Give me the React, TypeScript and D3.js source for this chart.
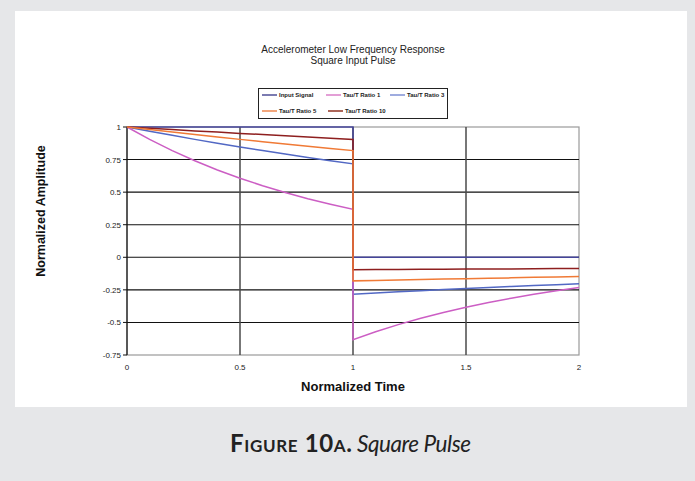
import React from "react";
import * as d3 from "d3";

const timeBefore = [0, 0.1, 0.2, 0.3, 0.4, 0.5, 0.6, 0.7, 0.8, 0.9, 1];
const timeAfter = [1, 1.1, 1.2, 1.3, 1.4, 1.5, 1.6, 1.7, 1.8, 1.9, 2];

const inputBefore = [1, 1, 1, 1, 1, 1, 1, 1, 1, 1, 1];
const inputAfter = [0, 0, 0, 0, 0, 0, 0, 0, 0, 0, 0];
const tau1Before = [1, 0.905, 0.819, 0.741, 0.67, 0.607, 0.549, 0.497, 0.449, 0.407, 0.368];
const tau1After = [-0.632, -0.572, -0.517, -0.468, -0.424, -0.383, -0.347, -0.314, -0.284, -0.257, -0.232];
const tau3Before = [1, 0.967, 0.936, 0.905, 0.875, 0.846, 0.819, 0.792, 0.766, 0.741, 0.717];
const tau3After = [-0.283, -0.274, -0.265, -0.256, -0.248, -0.24, -0.232, -0.224, -0.217, -0.21, -0.203];
const tau5Before = [1, 0.98, 0.961, 0.942, 0.923, 0.905, 0.887, 0.869, 0.852, 0.835, 0.819];
const tau5After = [-0.181, -0.178, -0.174, -0.171, -0.167, -0.164, -0.161, -0.158, -0.154, -0.151, -0.148];
const tau10Before = [1, 0.99, 0.98, 0.97, 0.961, 0.951, 0.942, 0.932, 0.923, 0.914, 0.905];
const tau10After = [-0.095, -0.094, -0.093, -0.092, -0.091, -0.09, -0.09, -0.089, -0.088, -0.087, -0.086];

const seriesNames = ["Input Signal", "Tau/T Ratio 1", "Tau/T Ratio 3", "Tau/T Ratio 5", "Tau/T Ratio 10"];
const seriesColors = ["#45459a", "#cc5ec4", "#5268c4", "#f07a36", "#8e1f1f"];
const legendColors = ["#5a5a9e", "#dd88cc", "#8898d8", "#f0905a", "#984030"];

const yTicks = [1, 0.75, 0.5, 0.25, 0, -0.25, -0.5, -0.75];
const yTickLabels = ["1", "0.75", "0.5", "0.25", "0", "-0.25", "-0.5", "-0.75"];
const xTicks = [0, 0.5, 1, 1.5, 2];
const xTickLabels = ["0", "0.5", "1", "1.5", "2"];

const chartTitle = ["Accelerometer Low Frequency Response", "Square Input Pulse"];

export default function App() {
  const W = 695, H = 481;
  const x = d3.scaleLinear().domain([0, 2]).range([127, 579]);
  const y = d3.scaleLinear().domain([-0.75, 1]).range([355, 127]);

  const series = [
    [inputBefore, inputAfter],
    [tau1Before, tau1After],
    [tau3Before, tau3After],
    [tau5Before, tau5After],
    [tau10Before, tau10After],
  ].map(([b, a]) => {
    const pts: [number, number][] = [];
    timeBefore.forEach((t, i) => pts.push([t, b[i]]));
    timeAfter.forEach((t, i) => pts.push([t, a[i]]));
    return pts;
  });

  const line = d3
    .line<[number, number]>()
    .x((d) => x(d[0]))
    .y((d) => y(d[1]));

  const font = "'Liberation Sans', Arial, sans-serif";
  const drawOrder = [0, 2, 1, 4, 3];

  const legendItems = [
    { i: 0, lx: 262, ly: 95 },
    { i: 1, lx: 326, ly: 95 },
    { i: 2, lx: 390, ly: 95 },
    { i: 3, lx: 262, ly: 111 },
    { i: 4, lx: 328, ly: 111 },
  ];

  return (
    <svg
      width={W}
      height={H}
      style={{ position: "absolute", left: 0, top: 0 }}
      xmlns="http://www.w3.org/2000/svg"
    >
      <rect x={0} y={0} width={W} height={H} fill="#e6e7e9" />
      <rect x={15} y={11} width={672} height={396} fill="#ffffff" />

      {/* plot border */}
      <rect x={x(0)} y={y(1)} width={x(2) - x(0)} height={y(-0.75) - y(1)} fill="none" stroke="#9a9a9a" strokeWidth={1.2} />

      {/* horizontal gridlines */}
      {yTicks.slice(1, -1).map((v) => (
        <line key={"h" + v} x1={x(0)} x2={x(2)} y1={y(v)} y2={y(v)} stroke="#111" strokeWidth={1.1} />
      ))}
      {/* vertical gridlines */}
      {xTicks.slice(1, -1).map((v) => (
        <line key={"v" + v} x1={x(v)} x2={x(v)} y1={y(1)} y2={y(-0.75)} stroke="#4a4a4a" strokeWidth={1.5} />
      ))}

      {/* y axis */}
      <line x1={x(0)} x2={x(0)} y1={y(1)} y2={y(-0.75)} stroke="#111" strokeWidth={1.2} />
      {yTicks.map((v, i) => (
        <g key={"yt" + v}>
          <line x1={x(0) - 4} x2={x(0)} y1={y(v)} y2={y(v)} stroke="#111" strokeWidth={1} />
          <text x={x(0) - 6} y={y(v) + 3} textAnchor="end" fontSize={8} fontFamily={font} fill="#222">
            {yTickLabels[i]}
          </text>
        </g>
      ))}
      {xTicks.map((v, i) => (
        <text key={"xt" + v} x={x(v)} y={370} textAnchor="middle" fontSize={8} fontFamily={font} fill="#222">
          {xTickLabels[i]}
        </text>
      ))}

      {/* series */}
      {drawOrder.map((i) => (
        <path key={"s" + i} d={line(series[i]) || ""} fill="none" stroke={seriesColors[i]} strokeWidth={1.5} />
      ))}

      {/* titles */}
      <text x={353} y={53} textAnchor="middle" fontSize={10} fontFamily={font} fill="#222">
        {chartTitle[0]}
      </text>
      <text x={353} y={64} textAnchor="middle" fontSize={10} fontFamily={font} fill="#222">
        {chartTitle[1]}
      </text>

      {/* legend */}
      <rect x={258.5} y={88.5} width={189} height={30} fill="#fff" stroke="#222" strokeWidth={1} />
      {legendItems.map(({ i, lx, ly }) => (
        <g key={"lg" + i}>
          <line x1={lx} x2={lx + 15} y1={ly} y2={ly} stroke={legendColors[i]} strokeWidth={1.6} />
          <text x={lx + 17} y={ly + 2} fontSize={6} fontWeight="bold" fontFamily={font} fill="#222">
            {seriesNames[i]}
          </text>
        </g>
      ))}

      {/* axis titles */}
      <text
        transform="translate(45,211) rotate(-90)"
        textAnchor="middle"
        fontSize={12.5}
        fontWeight="bold"
        fontFamily={font}
        fill="#111"
      >
        Normalized Amplitude
      </text>
      <text x={353} y={391} textAnchor="middle" fontSize={13} fontWeight="bold" fontFamily={font} fill="#111">
        Normalized Time
      </text>

      {/* caption */}
      <text y={452} fontFamily="Lato, 'Open Sans', sans-serif" fill="#222">
        <tspan x={230} fontSize={24} fontWeight="bold" style={{ fontVariant: "small-caps" }} textLength={122} lengthAdjust="spacing">
          Figure 10a.
        </tspan>
        <tspan x={357} fontSize={22.5} fontStyle="italic" textLength={114} lengthAdjust="spacing">
          Square Pulse
        </tspan>
      </text>
    </svg>
  );
}
